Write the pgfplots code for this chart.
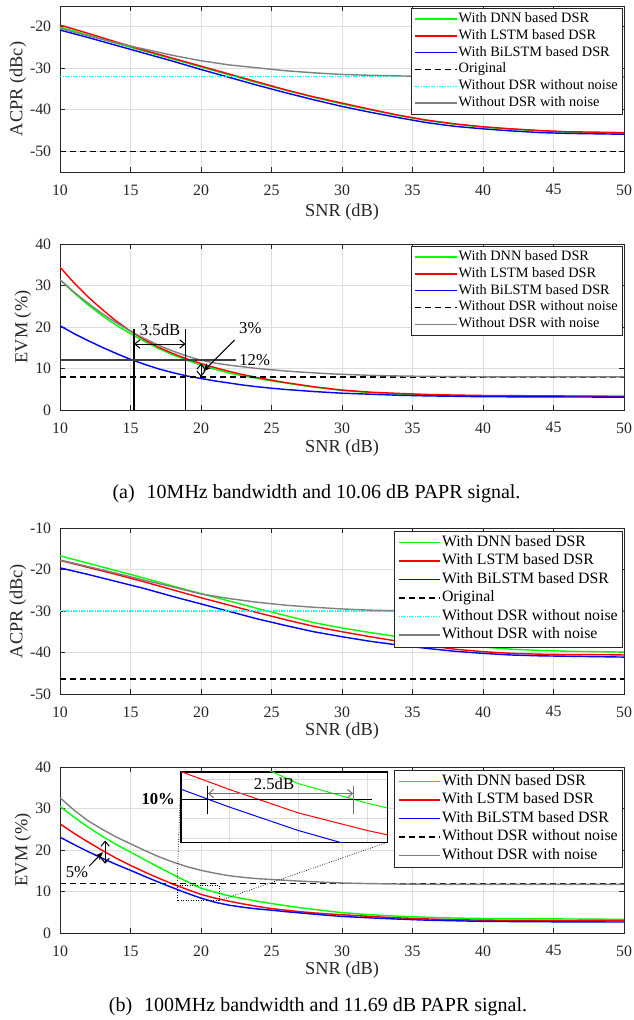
\documentclass[border=0pt]{standalone}
\usepackage{fontspec}
\setmainfont{Liberation Serif}
\usepackage{pgfplots}
\usepackage{pgfplotstable}
\pgfplotsset{compat=1.18}
\usetikzlibrary{arrows.meta}

\definecolor{cdnn}{HTML}{00FF00}
\definecolor{clstm}{HTML}{FF0000}
\definecolor{cbil}{HTML}{0000FF}
\definecolor{cnoise}{HTML}{808080}
\definecolor{ccyan}{HTML}{00FFFF}
\definecolor{axgray}{HTML}{262626}

% (a) 10 MHz, ACPR
\pgfplotstableread{
x   dnn    lstm   bil    noise
10  -20.1  -19.6  -20.8  -20.4
12  -22.0  -21.6  -22.6  -22.2
14  -24.0  -23.7  -24.5  -23.9
16  -25.9  -25.7  -26.4  -25.4
18  -27.8  -27.6  -28.3  -26.9
20  -29.7  -29.5  -30.3  -28.2
22  -31.6  -31.4  -32.2  -29.2
24  -33.5  -33.3  -34.1  -29.9
26  -35.3  -35.2  -35.9  -30.6
28  -37.0  -36.9  -37.6  -31.1
30  -38.6  -38.4  -39.2  -31.5
32  -40.0  -39.9  -40.6  -31.7
34  -41.4  -41.3  -41.9  -31.85
36  -42.6  -42.5  -43.1  -31.95
38  -43.5  -43.4  -44.0  -32.0
40  -44.2  -44.1  -44.6  -32.0
42  -44.7  -44.6  -45.1  -32.05
44  -45.1  -45.0  -45.5  -32.1
46  -45.4  -45.3  -45.7  -32.1
48  -45.5  -45.4  -45.8  -32.1
50  -45.6  -45.5  -45.9  -32.1
}\acprA

% (a) 10 MHz, EVM
\pgfplotstableread{
x   dnn   lstm  bil   noise
10  31.4  34.4  20.3  31.4
11  28.2  30.6  18.4  28.4
12  25.3  27.2  16.7  25.7
13  22.7  24.2  15.1  23.2
14  20.4  21.4  13.6  21.0
15  18.4  19.0  12.2  19.0
16  16.5  16.9  11.0  17.2
17  14.8  15.1   9.9  15.6
18  13.3  13.6   9.0  14.2
19  12.0  12.3   8.2  13.0
20  10.8  11.2   7.6  12.0
21   9.8  10.2   7.0  11.3
22   8.9   9.3   6.5  10.8
23   8.2   8.5   6.0  10.4
24   7.6   7.8   5.6  10.0
25   7.0   7.2   5.25  9.7
26   6.5   6.6   4.95  9.4
27   6.0   6.1   4.7   9.15
28   5.5   5.6   4.45  8.95
29   5.1   5.2   4.25  8.75
30   4.7   4.8   4.05  8.6
32   4.2   4.3   3.8   8.35
34   3.85  4.0   3.55  8.2
36   3.6   3.75  3.4   8.1
38   3.5   3.6   3.3   8.05
40   3.4   3.5   3.2   8.0
45   3.35  3.4   3.15  8.0
50   3.3   3.3   3.1   8.0
}\evmA

% (b) 100 MHz, ACPR
\pgfplotstableread{
x   dnn    lstm   bil    noise
10  -16.7  -17.8  -19.6  -17.7
12  -18.5  -19.5  -21.2  -19.3
14  -20.3  -21.2  -22.9  -20.9
16  -22.1  -23.0  -24.6  -22.6
18  -24.0  -24.9  -26.5  -24.2
20  -25.8  -26.8  -28.3  -25.9
22  -27.6  -28.6  -30.1  -27.0
24  -29.4  -30.4  -31.9  -27.9
26  -31.1  -32.1  -33.5  -28.6
28  -32.8  -33.7  -35.0  -29.1
30  -34.1  -35.0  -36.2  -29.5
32  -35.2  -36.2  -37.3  -29.8
34  -36.2  -37.3  -38.2  -29.95
36  -37.1  -38.3  -39.0  -30.05
38  -38.0  -39.2  -39.7  -30.1
40  -38.7  -39.8  -40.2  -30.1
42  -39.2  -40.2  -40.6  -30.1
44  -39.5  -40.4  -40.8  -30.1
46  -39.7  -40.5  -40.9  -30.1
48  -39.8  -40.5  -41.0  -30.1
50  -39.9  -40.6  -41.1  -30.1
}\acprB

% (b) 100 MHz, EVM
\pgfplotstableread{
x   dnn   lstm  bil   noise
10  30.5  26.3  23.1  32.6
11  27.9  24.0  21.3  29.6
12  25.5  21.9  19.6  27.0
13  23.3  19.9  18.0  25.0
14  21.3  18.0  16.5  23.1
15  19.5  16.3  15.1  21.5
16  17.65 14.7  13.65 19.9
17  15.85 13.2  12.25 18.4
18  14.1  11.8  10.9  17.1
19  12.4  10.5   9.6  16.0
20  10.8   9.3   8.4  15.1
21   9.8   8.4   7.4  14.4
22   8.95  7.65  6.7  13.8
23   8.25  7.0   6.2  13.4
24   7.65  6.4   5.8  13.1
25   7.1   5.9   5.5  12.9
26   6.6   5.5   5.15 12.7
27   6.1   5.15  4.85 12.5
28   5.7   4.85  4.55 12.35
29   5.3   4.6   4.25 12.2
30   4.9   4.4   4.0  12.05
32   4.4   4.0   3.65 11.9
34   4.05  3.65  3.35 11.8
36   3.8   3.4   3.1  11.75
38   3.6   3.2   2.95 11.7
40   3.5   3.1   2.8  11.7
45   3.4   3.0   2.7  11.7
50   3.3   3.0   2.65 11.7
}\evmB

\pgfplotsset{
  snr/.style={
    scale only axis, width=338.4pt, height=99.6pt,
    xmin=10, xmax=50, xtick={10,15,...,50},
    tick align=inside, tick pos=both, major tick length=3pt,
    axis line style={axgray, line width=0.5pt},
    tick style={axgray, line width=0.5pt},
    grid=major, grid style={black!13, line width=0.45pt},
    tick label style={font=\fontsize{9.5}{11}\selectfont, text=axgray},
    /pgf/number format/assume math mode=true,
    xticklabel style={yshift=-4pt},
    yticklabel style={xshift=-1.8pt},
    label style={font=\fontsize{11}{13}\selectfont, text=axgray},
    xlabel={SNR (dB)},
    legend cell align=left,
    legend image code/.code={\draw[##1, line width=0.9pt] (0pt,0pt) -- (25pt,0pt);},
    every axis plot/.append style={line width=0.85pt},
  },
  legup/.style={legend style={at={(1,1)}, anchor=north east, xshift=-1pt, yshift=-1pt,
    draw=axgray, line width=0.5pt, fill=white, inner xsep=2pt, inner ysep=1.5pt,
    row sep=0pt, font=\fontsize{8.6}{10}\selectfont,
    nodes={inner sep=0.5pt, text height=6.6pt, text depth=2.5pt}}},
  legdown/.style={legend style={at={(1,1)}, anchor=north east, xshift=-1pt, yshift=-1.5pt,
    draw=axgray, line width=0.5pt, fill=white, inner xsep=2pt, inner ysep=1.5pt,
    row sep=0pt, font=\fontsize{9.5}{11}\selectfont,
    nodes={inner sep=0.5pt, text height=7.3pt, text depth=2.8pt}}},
}

\tikzset{barb/.style={{Straight Barb[length=3pt,width=5pt]}-{Straight Barb[length=3pt,width=5pt]}}}

\begin{document}
\begin{tikzpicture}
\useasboundingbox (0,0) rectangle (379.8pt,-612pt);

% ---------- (a) ACPR ----------
\begin{axis}[snr, legup, at={(36pt,-103.2pt)}, anchor=south west,
  ymin=-55, ymax=-15, ytick={-50,-40,-30,-20}, yticklabels={-50,-40,-30,-20},
  ylabel={ACPR (dBc)},
  ylabel style={at={(axis description cs:-0.0745,0.5)}, anchor=center},
  xlabel style={at={(axis description cs:0.5,-0.241)}, anchor=center}]
\addplot[cdnn] table[x=x,y=dnn] {\acprA};
\addplot[clstm] table[x=x,y=lstm] {\acprA};
\addplot[cbil] table[x=x,y=bil] {\acprA};
\addplot[black, dash pattern=on 3.5pt off 2.5pt] coordinates {(10,-50) (50,-50)};
\addplot[ccyan, dash pattern=on 0.8pt off 0.8pt] coordinates {(10,-32) (50,-32)};
\addplot[cnoise] table[x=x,y=noise] {\acprA};
\legend{With DNN based DSR, With LSTM based DSR, With BiLSTM based DSR, Original,
  Without DSR without noise, Without DSR with noise}
\end{axis}

% ---------- (a) EVM ----------
\begin{axis}[snr, legup, at={(36pt,-246pt)}, anchor=south west,
  ymin=0, ymax=40, ytick={0,10,20,30,40},
  ylabel={EVM (\%)},
  ylabel style={at={(axis description cs:-0.0656,0.5)}, anchor=center},
  xlabel style={at={(axis description cs:0.5,-0.229)}, anchor=center}]
\addplot[cdnn] table[x=x,y=dnn] {\evmA};
\addplot[clstm] table[x=x,y=lstm] {\evmA};
\addplot[cbil] table[x=x,y=bil] {\evmA};
\addplot[black, dash pattern=on 3.5pt off 2.5pt] coordinates {(10,8) (50,8)};
\addplot[cnoise] table[x=x,y=noise] {\evmA};
\legend{With DNN based DSR, With LSTM based DSR, With BiLSTM based DSR,
  Without DSR without noise, Without DSR with noise}
\draw[black, line width=0.7pt] (axis cs:15.25,0) -- (axis cs:15.25,19.5);
\draw[black, line width=0.7pt] (axis cs:18.9,0) -- (axis cs:18.9,19.5);
\draw[black, line width=0.6pt, barb] (axis cs:15.25,15.9) -- (axis cs:18.9,15.9);
\node[inner sep=0pt] at (axis cs:17.1,19.3) {3.5dB};
\draw[black!75, line width=0.9pt] (axis cs:10,12) -- (axis cs:22.5,12);
\node[anchor=west, inner sep=0pt] at (axis cs:22.7,12) {12\%};
\node[inner sep=0pt] at (axis cs:23.5,19.7) {3\%};
\draw[black, line width=0.6pt, -{Stealth[length=5pt,width=4pt]}] (axis cs:22.4,16.9) -- (axis cs:20.15,9.3);
\draw[black, line width=0.6pt, barb] (axis cs:20,11.2) -- (axis cs:20,8);
\end{axis}

% ---------- (b) ACPR ----------
\begin{axis}[snr, legdown, at={(36pt,-416.4pt)}, anchor=south west,
  ymin=-50, ymax=-10, ytick={-50,-40,-30,-20,-10}, yticklabels={-50,-40,-30,-20,-10},
  ylabel={ACPR (dBc)},
  ylabel style={at={(axis description cs:-0.0745,0.5)}, anchor=center},
  xlabel style={at={(axis description cs:0.5,-0.226)}, anchor=center}]
\addplot[cdnn] table[x=x,y=dnn] {\acprB};
\addplot[clstm] table[x=x,y=lstm] {\acprB};
\addplot[cbil] table[x=x,y=bil] {\acprB};
\addplot[black, dash pattern=on 3.5pt off 2.5pt] coordinates {(10,-46.4) (50,-46.4)};
\addplot[ccyan, dash pattern=on 0.8pt off 0.8pt] coordinates {(10,-30) (50,-30)};
\addplot[cnoise] table[x=x,y=noise] {\acprB};
\legend{With DNN based DSR, With LSTM based DSR, With BiLSTM based DSR, Original,
  Without DSR without noise, Without DSR with noise}
\end{axis}

% ---------- (b) EVM ----------
\begin{axis}[snr, legdown, at={(36pt,-559.8pt)}, anchor=south west,
  ymin=0, ymax=40, ytick={0,10,20,30,40},
  ylabel={EVM (\%)},
  ylabel style={at={(axis description cs:-0.0656,0.5)}, anchor=center},
  xlabel style={at={(axis description cs:0.5,-0.223)}, anchor=center}]
\addplot[cdnn] table[x=x,y=dnn] {\evmB};
\addplot[clstm] table[x=x,y=lstm] {\evmB};
\addplot[cbil] table[x=x,y=bil] {\evmB};
\addplot[black, dash pattern=on 3.5pt off 2.5pt] coordinates {(10,12) (50,12)};
\addplot[cnoise] table[x=x,y=noise] {\evmB};
\legend{With DNN based DSR, With LSTM based DSR, With BiLSTM based DSR,
  Without DSR without noise, Without DSR with noise}
\draw[black, line width=0.6pt, barb] (axis cs:13.2,22.3) -- (axis cs:13.2,16.7);
\draw[black, line width=0.6pt, -{Stealth[length=5pt,width=4pt]}] (axis cs:12.06,16.1) -- (axis cs:13.05,19.5);
\node[inner sep=0pt] at (axis cs:11.2,14.8) {5\%};
\draw[black, line width=0.5pt, densely dotted] (axis cs:18.3,7.8) rectangle (axis cs:21.3,11.4);
\coordinate (rTL) at (axis cs:18.3,11.4);
\coordinate (rBR) at (axis cs:21.3,7.8);
\end{axis}

% ---------- inset ----------
\begin{axis}[name=inset, at={(108.6pt,-505.3pt)}, anchor=south west,
  scale only axis, width=124pt, height=42.2pt,
  xmin=18.3, xmax=21.3, ymin=7.8, ymax=11.4,
  xtick={19,20,21}, ytick={8,9,11}, xticklabels={}, yticklabels={},
  major tick length=0pt, grid=major, grid style={black!13, line width=0.45pt},
  axis line style={black, line width=0.8pt},
  axis background/.style={fill=white}]
\addplot[cdnn, line width=0.6pt] table[x=x,y=dnn] {\evmB};
\addplot[clstm, line width=0.6pt] table[x=x,y=lstm] {\evmB};
\addplot[cbil, line width=0.6pt] table[x=x,y=bil] {\evmB};
\draw[black, line width=0.6pt] (axis cs:18.3,10) -- (axis cs:21.07,10);
\draw[black, line width=0.6pt] (axis cs:18.69,10.68) -- (axis cs:18.69,9.24);
\draw[black!55, line width=0.8pt] (axis cs:20.8,10.68) -- (axis cs:20.8,9.24);
\draw[black!55, line width=0.6pt, barb] (axis cs:18.69,10.29) -- (axis cs:20.8,10.29);
\node[inner sep=0pt] at (axis cs:19.65,10.8) {2.5dB};
\coordinate (i10) at (axis cs:18.3,10);
\end{axis}
\node[anchor=east, inner sep=0pt, xshift=-3.5pt] at (i10) {\textbf{10\%}};
\draw[black, line width=0.45pt, densely dotted] (rTL) -- (inset.north west);
\draw[black, line width=0.45pt, densely dotted] (rBR) -- (inset.south east);

% ---------- captions ----------
\node[font=\fontsize{12}{14}\selectfont] at (189.9pt,-296.4pt)
  {(a)\hspace{0.6em}10MHz bandwidth and 10.06 dB PAPR signal.};
\node[font=\fontsize{12}{14}\selectfont] at (190.8pt,-604pt)
  {(b)\hspace{0.6em}100MHz bandwidth and 11.69 dB PAPR signal.};
\end{tikzpicture}
\end{document}
